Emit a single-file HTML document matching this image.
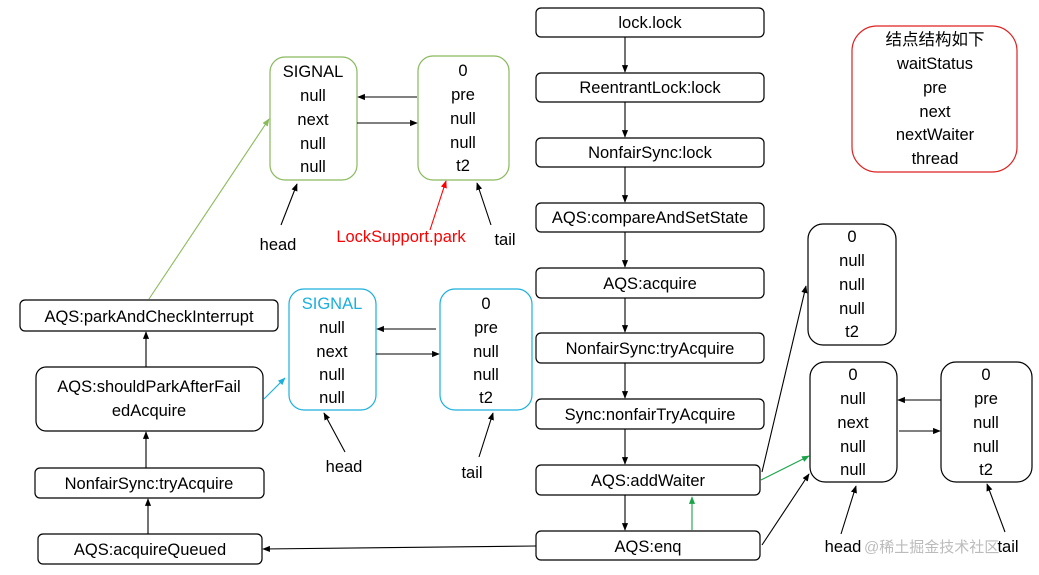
<!DOCTYPE html>
<html><head><meta charset="utf-8"><style>
html,body{margin:0;padding:0;background:#fff;}
svg{display:block;font-family:"Liberation Sans","Noto Sans CJK SC",sans-serif;}
</style></head><body>
<svg width="1039" height="575" viewBox="0 0 1039 575" xmlns="http://www.w3.org/2000/svg">
<defs>
<marker id="a" viewBox="0 0 10 10" refX="9" refY="5" markerWidth="7" markerHeight="7" orient="auto"><path d="M0,1L10,5L0,9z" fill="#000"/></marker>
<marker id="g" viewBox="0 0 10 10" refX="9" refY="5" markerWidth="7" markerHeight="7" orient="auto"><path d="M0,1L10,5L0,9z" fill="#8ab95e"/></marker>
<marker id="dg" viewBox="0 0 10 10" refX="9" refY="5" markerWidth="7" markerHeight="7" orient="auto"><path d="M0,1L10,5L0,9z" fill="#1aa34a"/></marker>
<marker id="b" viewBox="0 0 10 10" refX="9" refY="5" markerWidth="7" markerHeight="7" orient="auto"><path d="M0,1L10,5L0,9z" fill="#1ab0dd"/></marker>
<marker id="r" viewBox="0 0 10 10" refX="9" refY="5" markerWidth="7" markerHeight="7" orient="auto"><path d="M0,1L10,5L0,9z" fill="#f00"/></marker>
</defs>
<g fill="none" stroke="#000" stroke-width="1.2">
<rect x="536" y="8" width="228" height="29" rx="5"/>
<rect x="536" y="73" width="228" height="29" rx="5"/>
<rect x="536" y="138" width="228" height="29" rx="5"/>
<rect x="536" y="203" width="228" height="29" rx="5"/>
<rect x="536" y="268" width="228" height="30" rx="5"/>
<rect x="536" y="333" width="228" height="30" rx="5"/>
<rect x="536" y="399" width="228" height="30" rx="5"/>
<rect x="536" y="465" width="224" height="30" rx="5"/>
<rect x="536" y="531" width="224" height="29" rx="5"/>
<rect x="20" y="300" width="258" height="31" rx="5"/>
<rect x="36" y="367" width="227" height="64" rx="10"/>
<rect x="35" y="468" width="229" height="30" rx="5"/>
<rect x="38" y="534" width="224" height="30" rx="5"/>
<rect x="808" y="224" width="88" height="121" rx="15"/>
<rect x="810" y="362" width="87" height="120" rx="15"/>
<rect x="941" y="362" width="91" height="120" rx="15"/>
</g>
<rect x="270" y="57" width="87" height="123" rx="15" fill="none" stroke="#8ab95e" stroke-width="1.2"/>
<rect x="418" y="56" width="91" height="124" rx="15" fill="none" stroke="#8ab95e" stroke-width="1.2"/>
<rect x="289" y="289" width="87" height="121" rx="15" fill="none" stroke="#1ab0dd" stroke-width="1.2"/>
<rect x="440" y="289" width="92" height="121" rx="15" fill="none" stroke="#1ab0dd" stroke-width="1.2"/>
<rect x="852" y="26" width="165" height="146" rx="25" fill="none" stroke="#d22" stroke-width="1.2"/>
<g stroke="#000" stroke-width="1.1" marker-end="url(#a)">
<line x1="625" y1="37" x2="625" y2="72"/>
<line x1="625" y1="102" x2="625" y2="137"/>
<line x1="625" y1="167" x2="625" y2="202"/>
<line x1="625" y1="232" x2="625" y2="267"/>
<line x1="625" y1="298" x2="625" y2="332"/>
<line x1="625" y1="363" x2="625" y2="398"/>
<line x1="625" y1="429" x2="625" y2="464"/>
<line x1="625" y1="495" x2="625" y2="530"/>
<line x1="536" y1="546" x2="263" y2="549"/>
<line x1="148" y1="534" x2="148" y2="499"/>
<line x1="146" y1="468" x2="146" y2="432"/>
<line x1="146" y1="367" x2="146" y2="332"/>
<line x1="417" y1="97" x2="358" y2="97"/>
<line x1="357" y1="123" x2="417" y2="123"/>
<line x1="281" y1="225" x2="297" y2="184"/>
<line x1="491" y1="225" x2="477" y2="183"/>
<line x1="436" y1="329" x2="377" y2="329"/>
<line x1="376" y1="354" x2="439" y2="354"/>
<line x1="345" y1="452" x2="324" y2="413"/>
<line x1="479" y1="457" x2="493" y2="413"/>
<line x1="762" y1="472" x2="806" y2="286"/>
<line x1="762" y1="545" x2="809" y2="474"/>
<line x1="941" y1="400" x2="898" y2="400"/>
<line x1="899" y1="431" x2="940" y2="431"/>
<line x1="841" y1="534" x2="856" y2="486"/>
<line x1="1005" y1="532" x2="987" y2="484"/>
</g>
<line x1="149" y1="299" x2="269" y2="119" stroke="#8ab95e" stroke-width="1.1" marker-end="url(#g)"/>
<line x1="264" y1="399" x2="285" y2="378" stroke="#1ab0dd" stroke-width="1.1" marker-end="url(#b)"/>
<line x1="692" y1="530" x2="692" y2="497" stroke="#1aa34a" stroke-width="1.1" marker-end="url(#dg)"/>
<line x1="761" y1="480" x2="809" y2="456" stroke="#1aa34a" stroke-width="1.1" marker-end="url(#dg)"/>
<line x1="430" y1="230" x2="446" y2="181" stroke="#f00" stroke-width="1.1" marker-end="url(#r)"/>
<g font-size="16.5" text-anchor="middle" fill="#000">
<text x="650" y="28">lock.lock</text>
<text x="650" y="93">ReentrantLock:lock</text>
<text x="650" y="158">NonfairSync:lock</text>
<text x="650" y="223">AQS:compareAndSetState</text>
<text x="650" y="289">AQS:acquire</text>
<text x="650" y="354">NonfairSync:tryAcquire</text>
<text x="650" y="420">Sync:nonfairTryAcquire</text>
<text x="648" y="486">AQS:addWaiter</text>
<text x="648" y="552">AQS:enq</text>
<text x="149" y="322">AQS:parkAndCheckInterrupt</text>
<text x="149" y="392">AQS:shouldParkAfterFail</text>
<text x="149" y="416">edAcquire</text>
<text x="149" y="489">NonfairSync:tryAcquire</text>
<text x="150" y="555">AQS:acquireQueued</text>
<text x="313" y="77">SIGNAL</text><text x="313" y="101">null</text><text x="313" y="125">next</text><text x="313" y="149">null</text><text x="313" y="172">null</text>
<text x="463" y="76">0</text><text x="463" y="100">pre</text><text x="463" y="124">null</text><text x="463" y="148">null</text><text x="463" y="171">t2</text>
<text x="332" y="309" fill="#1ab0dd">SIGNAL</text><text x="332" y="333">null</text><text x="332" y="357">next</text><text x="332" y="380">null</text><text x="332" y="403">null</text>
<text x="486" y="309">0</text><text x="486" y="333">pre</text><text x="486" y="357">null</text><text x="486" y="380">null</text><text x="486" y="403">t2</text>
<text x="852" y="242">0</text><text x="852" y="266">null</text><text x="852" y="290">null</text><text x="852" y="314">null</text><text x="852" y="337">t2</text>
<text x="853" y="380">0</text><text x="853" y="404">null</text><text x="853" y="428">next</text><text x="853" y="452">null</text><text x="853" y="475">null</text>
<text x="986" y="380">0</text><text x="986" y="404">pre</text><text x="986" y="428">null</text><text x="986" y="452">null</text><text x="986" y="475">t2</text>
<text x="935" y="45">结点结构如下</text><text x="935" y="69">waitStatus</text><text x="935" y="93">pre</text><text x="935" y="117">next</text><text x="935" y="140">nextWaiter</text><text x="935" y="164">thread</text>
<text x="278" y="250">head</text>
<text x="401" y="242" fill="#f00">LockSupport.park</text>
<text x="505" y="245">tail</text>
<text x="344" y="472">head</text>
<text x="472" y="478">tail</text>
<text x="843" y="552">head</text>
<text x="1008" y="552">tail</text>
</g>
<text x="864" y="552" font-size="15" fill="#bbb">@稀土掘金技术社区</text>
</svg>
</body></html>
